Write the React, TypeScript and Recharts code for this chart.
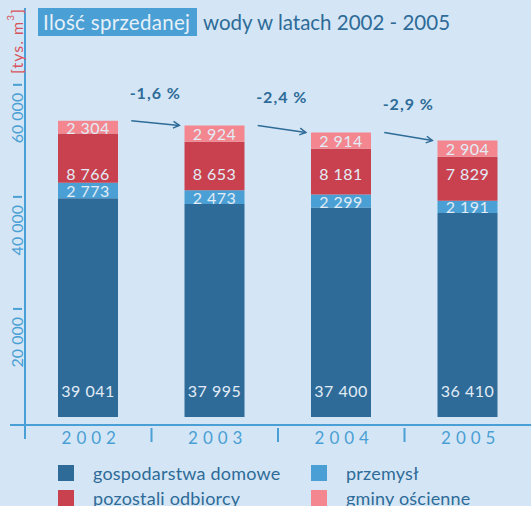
import React from "react";
import { BarChart, Bar, XAxis, YAxis, LabelList, ReferenceLine } from "recharts";

// values in thousand m3
const years = ["2002", "2003", "2004", "2005"];
const households = [39041, 37995, 37400, 36410];
const industry = [2773, 2473, 2299, 2191];
const otherCustomers = [8766, 8653, 8181, 7829];
const neighbourCommunes = [2304, 2924, 2914, 2904];
const changeLabels = ["-1,6 %", "-2,4 %", "-2,9 %"];
const yTicks = [20000, 40000, 60000];
// the red segment labels sit on one common level in the original
const otherLabelLevel = 43500;

const BG = "#d4e6f5";
const DARK = "#2e6b98";
const MID = "#4a9fd4";
const RED = "#c9414f";
const PINK = "#f3868e";
const LABEL = "#e2ecf6";

const data = years.map((year, i) => ({
  year,
  slot: i + 0.5,
  households: households[i],
  industry: industry[i],
  otherCustomers: otherCustomers[i],
  neighbourCommunes: neighbourCommunes[i],
}));

const totals = years.map(
  (_, i) => households[i] + industry[i] + otherCustomers[i] + neighbourCommunes[i]
);

const series = [
  { key: "households", name: "gospodarstwa domowe", color: DARK, pos: "bottom" },
  { key: "industry", name: "przemysł", color: MID, pos: "center" },
  { key: "otherCustomers", name: "pozostali odbiorcy", color: RED, pos: "level" },
  { key: "neighbourCommunes", name: "gminy ościenne", color: PINK, pos: "center" },
];

const fmt = (v: number) => String(v).replace(/\B(?=(\d{3})+(?!\d))/g, " ");

const makeLabel = (pos: string) => (props: any) => {
  const { x, y, width, height, value, index } = props;
  let cy = y + height / 2;
  if (pos === "bottom") cy = y + height - 26;
  if (pos === "level") {
    const base = households[index] + industry[index];
    cy = y + height - ((otherLabelLevel - base) * height) / value;
  }
  return (
    <text
      x={x + width / 2}
      y={cy}
      textAnchor="middle"
      dominantBaseline="central"
      fill={LABEL}
      fontSize={16}
      letterSpacing={0.5}
    >
      {fmt(value)}
    </text>
  );
};

const YTick = (props: any) => {
  const { x, y, payload } = props;
  const ty = y + 4;
  return (
    <g>
      <line x1={x - 12} x2={x - 3} y1={ty} y2={ty} stroke={MID} strokeWidth={2} />
      <text
        x={x - 8}
        y={ty + 8}
        transform={`rotate(-90, ${x - 8}, ${ty + 8})`}
        textAnchor="end"
        dominantBaseline="central"
        fill={MID}
        fontSize={16}
      >
        {fmt(payload.value)}
      </text>
    </g>
  );
};

const XTick = (props: any) => {
  const { x, y, payload, index } = props;
  const half = payload && payload.offset ? payload.offset : 63.25;
  const edge = x - half;
  return (
    <g>
      {index === 0 ? (
        <g>
          <line x1={edge - 15} x2={edge} y1={y} y2={y} stroke={MID} strokeWidth={2} />
          <line x1={edge} x2={edge} y1={y} y2={y + 14} stroke={MID} strokeWidth={2} />
        </g>
      ) : (
        <line x1={edge} x2={edge} y1={y + 3} y2={y + 17} stroke={MID} strokeWidth={2} />
      )}
      <text
        x={x + 3}
        y={y + 12}
        textAnchor="middle"
        dominantBaseline="central"
        fill={MID}
        fontSize={17}
        letterSpacing={5}
      >
        {payload.value}
      </text>
    </g>
  );
};

const makeArrow = (i: number) => (props: any) => {
  const { x1, y1, x2, y2 } = props;
  const a = Math.atan2(y2 - y1, x2 - x1);
  const len = 7;
  const h1x = x2 - len * Math.cos(a - 0.5);
  const h1y = y2 - len * Math.sin(a - 0.5);
  const h2x = x2 - len * Math.cos(a + 0.5);
  const h2y = y2 - len * Math.sin(a + 0.5);
  return (
    <g>
      <line x1={x1} y1={y1} x2={x2} y2={y2} stroke={DARK} strokeWidth={1.5} />
      <polyline
        points={`${h1x},${h1y} ${x2},${y2} ${h2x},${h2y}`}
        fill="none"
        stroke={DARK}
        strokeWidth={1.5}
      />
      <text
        x={(x1 + x2) / 2}
        y={y1 - 22}
        textAnchor="middle"
        fill={DARK}
        fontSize={16}
        fontWeight="bold"
        letterSpacing={1}
      >
        {changeLabels[i]}
      </text>
    </g>
  );
};

export default function App() {
  return (
    <div
      style={{
        position: "fixed",
        left: 0,
        top: 0,
        width: 531,
        height: 506,
        background: BG,
        overflow: "hidden",
        fontFamily: "Lato, 'Noto Sans', sans-serif",
      }}
    >
      <BarChart
        width={531}
        height={506}
        data={data}
        margin={{ top: 8, right: 0, bottom: 51, left: 0 }}
        barSize={60}
        style={{ fontFamily: "Lato, 'Noto Sans', sans-serif" }}
      >
        <XAxis
          xAxisId="cat"
          dataKey="year"
          height={30}
          tickSize={0}
          tickMargin={0}
          tickLine={false}
          axisLine={{ stroke: MID, strokeWidth: 2 }}
          tick={<XTick />}
          interval={0}
        />
        <XAxis
          xAxisId="num"
          dataKey="slot"
          type="number"
          domain={[0, 4]}
          hide
          allowDataOverflow
        />
        <YAxis
          width={25}
          domain={[-1430, 73000]}
          allowDataOverflow
          ticks={yTicks}
          tickSize={0}
          tickMargin={0}
          tickLine={false}
          axisLine={{ stroke: MID, strokeWidth: 2 }}
          tick={<YTick />}
        />
        {series.map((s) => (
          <Bar
            key={s.key}
            xAxisId="cat"
            dataKey={s.key}
            stackId="a"
            fill={s.color}
            isAnimationActive={false}
          >
            <LabelList dataKey={s.key} content={makeLabel(s.pos)} />
          </Bar>
        ))}
        {changeLabels.map((_, i) => (
          <ReferenceLine
            key={i}
            xAxisId="num"
            ifOverflow="visible"
            segment={[
              { x: i + 0.84, y: totals[i] },
              { x: i + 1.22, y: totals[i + 1] },
            ]}
            shape={makeArrow(i)}
          />
        ))}
      </BarChart>

      {/* title */}
      <div
        style={{
          position: "absolute",
          left: 38,
          top: 8,
          height: 28,
          width: 159,
          background: MID,
          color: "#e6f0f8",
          fontSize: 20.5,
          lineHeight: "28px",
          paddingLeft: 5,
          boxSizing: "border-box",
          whiteSpace: "nowrap",
          letterSpacing: 0.3,
        }}
      >
        Ilość sprzedanej
      </div>
      <div
        style={{
          position: "absolute",
          left: 203,
          top: 8,
          height: 28,
          color: DARK,
          fontSize: 20.5,
          lineHeight: "28px",
          whiteSpace: "nowrap",
        }}
      >
        wody w latach 2002 - 2005
      </div>

      {/* unit */}
      <svg style={{ position: "absolute", left: 0, top: 0 }} width={30} height={80}>
        <text
          x={16}
          y={41}
          transform="rotate(-90, 16, 41)"
          textAnchor="middle"
          dominantBaseline="central"
          fill="#d9535d"
          fontSize={16}
          letterSpacing={1}
        >
          [tys. m
          <tspan fontSize={10} dy={-6}>
            3
          </tspan>
          <tspan dy={6}>]</tspan>
        </text>
      </svg>

      {/* legend */}
      <div
        style={{
          position: "absolute",
          left: 58,
          top: 465,
          display: "grid",
          gridTemplateColumns: "253px 200px",
          rowGap: 9,
        }}
      >
        {series.map((s) => (
          <div key={s.key} style={{ display: "flex", alignItems: "center", height: 16 }}>
            <div style={{ width: 16, height: 16, background: s.color, marginRight: 19 }} />
            <span style={{ color: DARK, fontSize: 18, whiteSpace: "nowrap", letterSpacing: 0.2 }}>
              {s.name}
            </span>
          </div>
        ))}
      </div>
    </div>
  );
}
